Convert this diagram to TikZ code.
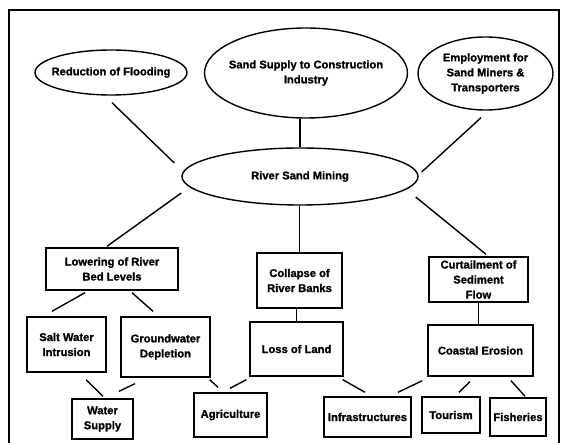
\documentclass[tikz,border=0pt]{standalone}
\usepackage{fontspec}
\setmainfont[BoldFeatures={FakeBold=1.2}]{Liberation Sans}
\usetikzlibrary{shapes.geometric}
\begin{document}
\begin{tikzpicture}[x=1pt,y=-1pt,
  every node/.style={font=\bfseries\fontsize{11.2}{15}\selectfont, align=center, inner sep=0pt},
  ell/.style={draw, ellipse, line width=1.4pt, inner sep=-12pt},
  box/.style={draw, rectangle, line width=1.4pt},
  conn/.style={line width=1.4pt},
  frame/.style={line width=2.6pt}]
\useasboundingbox (0,0) rectangle (563,443);
\draw[frame] (9,450) -- (9,10) -- (559,10) -- (559,450);

% ellipses
\node[ell, minimum width=152pt, minimum height=45pt] (red) at (111,72.5) {Reduction of Flooding};
\node[ell, minimum width=203pt, minimum height=90pt] (sand) at (306,73) {Sand Supply to Construction\\Industry};
\node[ell, minimum width=135pt, minimum height=73pt] (emp) at (485.5,73.5) {Employment for\\Sand Miners \&\\Transporters};
\node[ell, minimum width=236pt, minimum height=57pt] (rsm) at (300,176.5) {River Sand Mining};

% boxes
\node[box, minimum width=132pt, minimum height=42pt] (low) at (112,269) {Lowering of River\\Bed Levels};
\node[box, minimum width=85pt, minimum height=55pt] (col) at (299.5,280.5) {Collapse of\\River Banks};
\node[box, minimum width=99pt, minimum height=45pt] (cur) at (478.5,279.5) {Curtailment of\\Sediment\\Flow};
\node[box, minimum width=79pt, minimum height=55pt] (salt) at (66.5,344.5) {Salt Water\\Intrusion};
\node[box, minimum width=89pt, minimum height=60pt] (gw) at (165.5,347) {Groundwater\\Depletion};
\node[box, minimum width=93pt, minimum height=54pt] (loss) at (296.5,349) {Loss of Land};
\node[box, minimum width=105pt, minimum height=51pt] (coast) at (480.5,350.5) {Coastal Erosion};
\node[box, minimum width=61pt, minimum height=40pt] (water) at (102.5,419) {Water\\Supply};
\node[box, minimum width=73pt, minimum height=44pt] (agri) at (230.5,415) {Agriculture};
\node[box, minimum width=87pt, minimum height=40pt] (infra) at (367.5,417) {Infrastructures};
\node[box, minimum width=58pt, minimum height=36pt] (tour) at (451,415) {Tourism};
\node[box, minimum width=56pt, minimum height=38pt] (fish) at (518,417) {Fisheries};

% connectors
\draw[conn] ([shift={(1,7)}]red.south) -- ([shift={(-7,-13.5)}]rsm.west);
\draw[conn] (sand.south -| rsm.north) -- (rsm.north);
\draw[conn] ([shift={(-4.5,7)}]emp.south) -- ([shift={(3,-4.5)}]rsm.east);
\draw[conn] ([shift={(0,16.5)}]rsm.west) -- ([shift={(-5,-1)}]low.north);
\draw[conn] (rsm.south -| col.north) -- (col.north);
\draw[conn] ([shift={(-3,20.5)}]rsm.east) -- ([shift={(7.5,-2)}]cur.north);
\draw[conn] ([shift={(-27,2)}]low.south) -- ([shift={(-14.5,-5)}]salt.north);
\draw[conn] ([shift={(20,2)}]low.south) -- ([shift={(-12.5,-5)}]gw.north);
\draw[conn] (loss.north |- col.south) -- (loss.north);
\draw[conn] (cur.south) -- (cur.south |- coast.north);
\draw[conn] ([shift={(19.5,7)}]salt.south) -- ([shift={(0.5,-2)}]water.north);
\draw[conn] ([shift={(-30.5,6)}]gw.south) -- ([shift={(16.5,-7)}]water.north);
\draw[conn] ([shift={(-1,2)}]gw.south east) -- ([shift={(-12.5,-5)}]agri.north);
\draw[conn] ([shift={(-3,3)}]loss.south west) -- ([shift={(-0.5,-4)}]agri.north);
\draw[conn] ([shift={(-1,3)}]loss.south east) -- ([shift={(-2.5,-4)}]infra.north);
\draw[conn] ([shift={(-5,4)}]coast.south west) -- ([shift={(30.5,-4)}]infra.north);
\draw[conn] ([shift={(-10.5,5)}]coast.south) -- ([shift={(8,-4)}]tour.north);
\draw[conn] ([shift={(30.5,4)}]coast.south) -- ([shift={(7,-1)}]fish.north);
\end{tikzpicture}
\end{document}
